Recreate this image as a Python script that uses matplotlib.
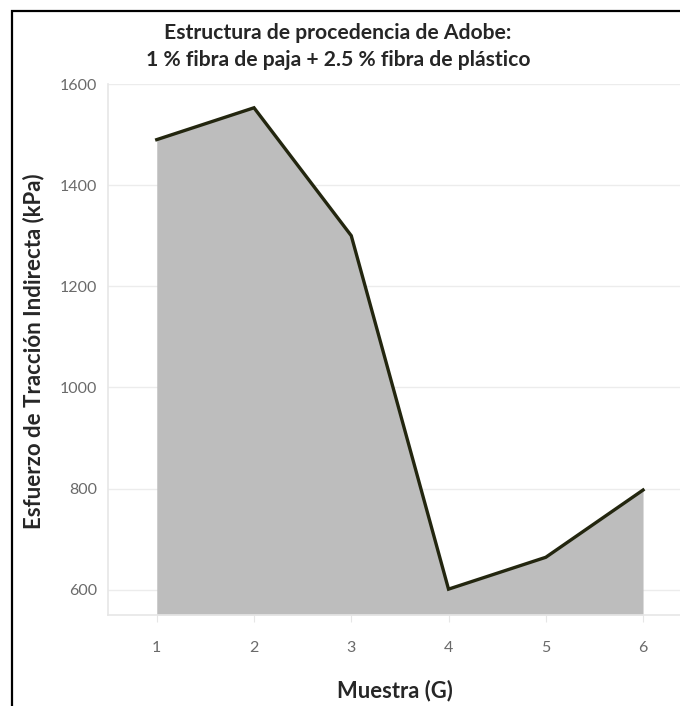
import matplotlib
matplotlib.use("Agg")
import matplotlib.pyplot as plt
from matplotlib.patches import Rectangle

# data
muestras = [1, 2, 3, 4, 5, 6]
esfuerzo = [1490, 1553, 1300, 601, 664, 797]
y_ticks = [600, 800, 1000, 1200, 1400, 1600]

TITLE = "Estructura de procedencia de Adobe:\n1 % fibra de paja + 2.5 % fibra de plástico"
X_LABEL = "Muestra (G)"
Y_LABEL = "Esfuerzo de Tracción Indirecta (kPa)"

plt.rcParams['font.family'] = ['Lato', 'DejaVu Sans']

fig = plt.figure(figsize=(6.8, 7.06), dpi=100)
ax = fig.add_axes([0.159, 0.129, 0.841, 0.752])

y_min = 550
ax.fill_between(muestras, esfuerzo, y_min, color="#bdbdbd", linewidth=0, zorder=2)
ax.plot(muestras, esfuerzo, color="#23260f", linewidth=2.4, zorder=3,
        solid_joinstyle="miter")

ax.set_xlim(0.5, 6.38)
ax.set_ylim(y_min, 1600)
ax.set_yticks(y_ticks)
ax.set_xticks(muestras)
ax.grid(axis="y", color="#ececec", linewidth=1, zorder=1)
ax.set_axisbelow(True)

for s in ["top", "right"]:
    ax.spines[s].set_visible(False)
for s in ["left", "bottom"]:
    ax.spines[s].set_color("#e6e6e6")
    ax.spines[s].set_linewidth(1.2)

ax.tick_params(axis="y", length=0, labelsize=11.5, labelcolor="#6a6a6a", pad=8)
ax.tick_params(axis="x", length=5, color="#e6e6e6", labelsize=11.5,
               labelcolor="#6a6a6a", pad=14)

fig.text(0.497, 0.934, TITLE, ha="center", va="center", fontsize=15.2,
         fontweight="bold", color="#262626", linespacing=1.4)
fig.text(0.581, 0.022, X_LABEL, ha="center", va="center", fontsize=15.8,
         fontweight="bold", color="#262626")
fig.text(0.049, 0.503, Y_LABEL, ha="center", va="center", rotation=90,
         fontsize=16, fontweight="bold", color="#262626")

# black frame round the picture, cut at the right and bottom
fig.patches.append(Rectangle((12 / 680, -0.1), 1.2, 1 - 11 / 706 + 0.1,
                             transform=fig.transFigure, fill=False,
                             edgecolor="black", linewidth=1.6))

fig.savefig("out.png", dpi=100)
